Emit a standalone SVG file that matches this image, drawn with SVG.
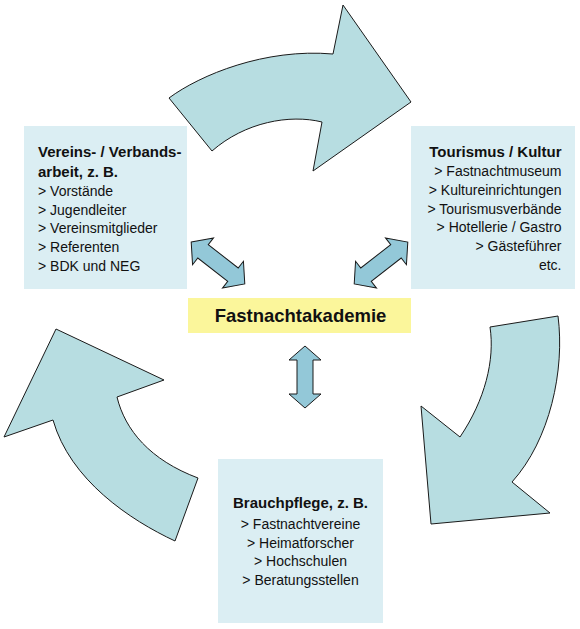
<svg xmlns="http://www.w3.org/2000/svg" width="580" height="629" viewBox="0 0 580 629">
<style>
.box{fill:#dbeef3;}
.big{fill:#b7dde1;stroke:#1a1a1a;stroke-width:1;stroke-linejoin:miter;}
.small{fill:#93c8d8;stroke:#1a1a1a;stroke-width:1;}
text{font-family:"Liberation Sans",Arial,sans-serif;fill:#111;}
.t{font-size:14px;}
.b{font-size:15px;font-weight:bold;}
</style>
<rect width="580" height="629" fill="#ffffff"/>
<g id="connectors">
<path class="big" d="M169,98 C200,75 265,48 333,54 L343,5 L411,102 L313,171 L322,122 C290,114 245,122 212,151 Z"/>
<path class="big" d="M558,316 C565,370 550,440 512,482 L550,513 L431,524 L421,406 L460,437 C485,400 495,360 490,327 Z"/>
<path class="big" d="M175,541 C130,520 70,480 53,420 L4,437 L56,329 L164,380 L117,397 C125,430 150,460 198,478 Z"/>
<path class="small" transform="translate(218,263) rotate(38)" d="M-34,0 L-19,-17 L-19,-8.5 L19,-8.5 L19,-17 L34,0 L19,17 L19,8.5 L-19,8.5 L-19,17 Z"/>
<path class="small" transform="translate(381,263) rotate(-38)" d="M-34,0 L-19,-17 L-19,-8.5 L19,-8.5 L19,-17 L34,0 L19,17 L19,8.5 L-19,8.5 L-19,17 Z"/>
<path class="small" d="M305,346 L321,360 L313,360 L313,394 L321,394 L305,408 L289,394 L297,394 L297,360 L289,360 Z"/>
</g>
<g id="vereine">
<rect class="box" x="24" y="126" width="163" height="163"/>
<text class="b" x="38" y="157">Vereins- / Verbands-</text>
<text class="b" x="38" y="177">arbeit, z. B.</text>
<text class="t" x="38" y="196">&gt; Vorstände</text>
<text class="t" x="38" y="214.5">&gt; Jugendleiter</text>
<text class="t" x="38" y="233">&gt; Vereinsmitglieder</text>
<text class="t" x="38" y="252">&gt; Referenten</text>
<text class="t" x="38" y="270.5">&gt; BDK und NEG</text>
</g>
<g id="tourismus">
<rect class="box" x="411" y="126" width="164" height="163"/>
<g text-anchor="end">
<text class="b" x="561.5" y="157">Tourismus / Kultur</text>
<text class="t" x="561.5" y="176">&gt; Fastnachtmuseum</text>
<text class="t" x="561.5" y="195">&gt; Kultureinrichtungen</text>
<text class="t" x="561.5" y="213.5">&gt; Tourismusverbände</text>
<text class="t" x="561.5" y="232">&gt; Hotellerie / Gastro</text>
<text class="t" x="561.5" y="251">&gt; Gästeführer</text>
<text class="t" x="561.5" y="269.5">etc.</text>
</g>
</g>
<g id="akademie">
<rect x="188" y="298" width="223" height="35" fill="#fbf69b"/>
<text x="300.5" y="322" text-anchor="middle" style="font-size:18.5px;font-weight:bold">Fastnachtakademie</text>
</g>
<g id="brauchpflege">
<rect class="box" x="218" y="459" width="165" height="164"/>
<g text-anchor="middle">
<text class="b" x="300.5" y="508">Brauchpflege, z. B.</text>
<text class="t" x="300.5" y="529">&gt; Fastnachtvereine</text>
<text class="t" x="300.5" y="547.5">&gt; Heimatforscher</text>
<text class="t" x="300.5" y="566">&gt; Hochschulen</text>
<text class="t" x="300.5" y="584.5">&gt; Beratungsstellen</text>
</g>
</g>
</svg>
